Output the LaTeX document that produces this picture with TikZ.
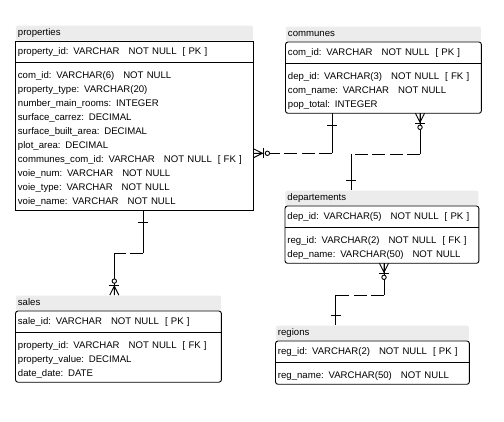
\documentclass[tikz,border=0pt]{standalone}
\usepackage{fontspec}
\setmainfont{Liberation Sans}
\usetikzlibrary{positioning, calc}
\definecolor{titlegray}{RGB}{236,236,236}
\newcommand{\gapa}{\hspace{9pt}}
\newcommand{\gapb}{\hspace{6pt}}
\newcommand{\rowstrut}{\rule[-1.5pt]{0pt}{14pt}}
\newcommand{\laststrut}{\rule[-1.5pt]{0pt}{1.5pt}}

\tikzset{
  every node/.style={font=\fontsize{9.6}{14}\selectfont},
  tabtitle/.style={anchor=south west, fill=titlegray, rounded corners=2pt, inner xsep=2pt, inner ysep=0pt, minimum height=15pt, text height=7pt, text depth=2pt},
  pkrow/.style={anchor=north west, inner xsep=2pt, inner ysep=0pt, minimum height=21pt, text height=7pt, text depth=2pt},
  fieldrows/.style={anchor=north west, align=left, inner xsep=2pt, inner ysep=3pt, execute at begin node=\rowstrut, execute at end node=\laststrut},
  reldash/.style={dash pattern=on 13pt off 4.5pt},
  zeromany/.pic={
    \draw (0,-4.5) -- (9,0) -- (0,4.5) (0,0) -- (9,0);
    \draw (10,-5) -- (10,5);
    \draw[fill=white] (14,0) circle (2.2);
  },
}

\begin{document}
\begin{tikzpicture}[x=1pt, y=-1pt, line width=0.9pt]
  \useasboundingbox (0,0) rectangle (504,421);

  % properties
  \node[tabtitle, text width=233pt] (prop-t) at (15.5,41) {properties};
  \node[pkrow, text width=233pt] (prop-pk) at (prop-t.south west) {property\_id: VARCHAR\gapa NOT NULL\gapb[ PK ]};
  \node[fieldrows, text width=233pt] (prop-f) at (prop-pk.south west) {com\_id: VARCHAR(6)\gapa NOT NULL\\
    property\_type: VARCHAR(20)\\
    number\_main\_rooms: INTEGER\\
    surface\_carrez: DECIMAL\\
    surface\_built\_area: DECIMAL\\
    plot\_area: DECIMAL\\
    communes\_com\_id: VARCHAR\gapa NOT NULL\gapb[ FK ]\\
    voie\_num: VARCHAR\gapa NOT NULL\\
    voie\_type: VARCHAR\gapa NOT NULL\\
    voie\_name: VARCHAR\gapa NOT NULL};
  \draw (prop-pk.north west) rectangle (prop-f.south east);
  \draw (prop-pk.south west) -- (prop-pk.south east);

  % communes
  \node[tabtitle, text width=191pt] (comm-t) at (285.5,42) {communes};
  \node[pkrow, text width=191pt] (comm-pk) at (comm-t.south west) {com\_id: VARCHAR\gapa NOT NULL\gapb[ PK ]};
  \node[fieldrows, text width=191pt] (comm-f) at (comm-pk.south west) {dep\_id: VARCHAR(3)\gapa NOT NULL\gapb[ FK ]\\
    com\_name: VARCHAR\gapa NOT NULL\\
    pop\_total: INTEGER};
  \draw[rounded corners=2.5pt] (comm-pk.north west) rectangle (comm-f.south east);
  \draw (comm-pk.south west) -- (comm-pk.south east);

  % departements
  \node[tabtitle, text width=189pt] (dept-t) at (285,206) {departements};
  \node[pkrow, text width=189pt] (dept-pk) at (dept-t.south west) {dep\_id: VARCHAR(5)\gapa NOT NULL\gapb[ PK ]};
  \node[fieldrows, text width=189pt] (dept-f) at (dept-pk.south west) {reg\_id: VARCHAR(2)\gapa NOT NULL\gapb[ FK ]\\
    dep\_name: VARCHAR(50)\gapa NOT NULL};
  \draw[rounded corners=2.5pt] (dept-pk.north west) rectangle (dept-f.south east);
  \draw (dept-pk.south west) -- (dept-pk.south east);

  % sales
  \node[tabtitle, text width=201pt] (sale-t) at (15.5,311) {sales};
  \node[pkrow, text width=201pt] (sale-pk) at (sale-t.south west) {sale\_id: VARCHAR\gapa NOT NULL\gapb[ PK ]};
  \node[fieldrows, text width=201pt] (sale-f) at (sale-pk.south west) {property\_id: VARCHAR\gapa NOT NULL\gapb[ FK ]\\
    property\_value: DECIMAL\\
    date\_date: DATE};
  \draw[rounded corners=2.5pt] (sale-pk.north west) rectangle (sale-f.south east);
  \draw (sale-pk.south west) -- (sale-pk.south east);

  % regions
  \node[tabtitle, text width=189pt] (reg-t) at (275.5,341) {regions};
  \node[pkrow, text width=189pt] (reg-pk) at (reg-t.south west) {reg\_id: VARCHAR(2)\gapa NOT NULL\gapb[ PK ]};
  \node[fieldrows, text width=189pt] (reg-f) at (reg-pk.south west) {reg\_name: VARCHAR(50)\gapa NOT NULL};
  \draw[rounded corners=2.5pt] (reg-pk.north west) rectangle (reg-f.south east);
  \draw (reg-pk.south west) -- (reg-pk.south east);

  % communes -> properties
  \coordinate (cp1) at ($(comm-f.south west)+(46.5,0)$);
  \coordinate (cp2) at ($(cp1)+(0,40)$);
  \coordinate (cp3) at (cp2 -| prop-f.east);
  \draw (cp1) -- (cp2);
  \draw[reldash] (cp2) -- (cp3);
  \draw ($(cp1)+(-5,12)$) -- ++(10,0);
  \pic at (cp3) {zeromany};

  % properties -> sales
  \coordinate (ps1) at ($(prop-f.south west)+(127.8,0)$);
  \coordinate (ps2) at ($(ps1)+(0,43)$);
  \coordinate (ps4) at ($(sale-t.north west)+(98.8,0)$);
  \coordinate (ps3) at (ps4 |- ps2);
  \draw (ps1) -- (ps2);
  \draw[reldash] (ps2) -- (ps3);
  \draw (ps3) -- (ps4);
  \draw ($(ps1)+(-5,12)$) -- ++(10,0);
  \pic[rotate=90] at (ps4) {zeromany};

  % communes -> departements
  \coordinate (cd1) at ($(comm-f.south west)+(134.5,0)$);
  \coordinate (cd2) at ($(cd1)+(0,41)$);
  \coordinate (cd4) at ($(dept-t.north west)+(66,0)$);
  \coordinate (cd3) at (cd4 |- cd2);
  \draw (cd1) -- (cd2);
  \draw[reldash] (cd2) -- (cd3);
  \draw (cd3) -- (cd4);
  \draw ($(cd4)+(-5,-10)$) -- ++(10,0);
  \pic[rotate=-90] at (cd1) {zeromany};

  % departements -> regions
  \coordinate (dr1) at ($(dept-f.south west)+(99,0)$);
  \coordinate (dr2) at ($(dr1)+(0,32)$);
  \coordinate (dr4) at ($(reg-t.north west)+(60.2,0)$);
  \coordinate (dr3) at (dr4 |- dr2);
  \draw (dr1) -- (dr2);
  \draw[reldash] (dr2) -- (dr3);
  \draw (dr3) -- (dr4);
  \draw ($(dr4)+(-5,-9.5)$) -- ++(10,0);
  \pic[rotate=-90] at (dr1) {zeromany};
\end{tikzpicture}
\end{document}
